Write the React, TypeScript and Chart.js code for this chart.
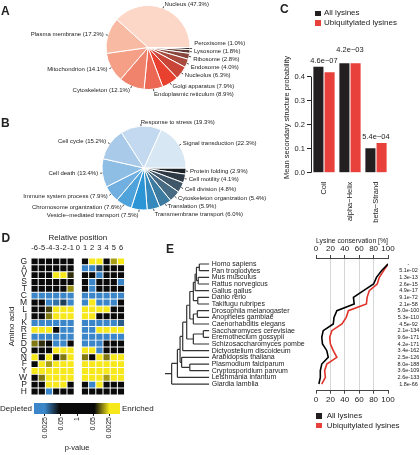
import React, { useEffect, useRef } from "react";
import { Chart, registerables } from "chart.js";

Chart.register(...registerables);

const FONT = "'Liberation Sans', Arial, Helvetica, sans-serif";
Chart.defaults.font.family = FONT;
Chart.defaults.color = "#222";

// ---------------- Panel A: subcellular localization ----------------
const localizationLabels = [
  "Nucleus", "Plasma membrane", "Mitochondrion", "Cytoskeleton", "Endoplasmic reticulum",
  "Golgi apparatus", "Nucleolus", "Endosome", "Ribosome", "Lysosome", "Peroxisome",
];
const localizationPercent = [47.3, 17.2, 14.1, 12.1, 8.9, 7.9, 6.3, 4.0, 2.8, 1.8, 1.0];
const localizationColors = [
  "#fcd6c6", "#f9baa3", "#f59f87", "#f0836b", "#ec6854", "#e8412f",
  "#c94537", "#a84a3d", "#88463c", "#603833", "#2e2523",
];

// ---------------- Panel B: biological process ----------------
const processLabels = [
  "Signal transduction", "Response to stress", "Cell cycle", "Cell death",
  "Immune system process", "Chromosome organization", "Vesicle\u2212mediated transport",
  "Transmembrane transport", "Translation", "Cytoskeleton organization",
  "Cell division", "Cell motility", "Protein folding",
];
const processPercent = [22.3, 19.3, 15.2, 13.4, 7.9, 7.6, 7.5, 6.0, 5.9, 5.4, 4.8, 4.1, 2.9];
const processColors = [
  "#d8e7f4", "#c2d9ef", "#a9cbe9", "#8fbee5", "#70afdf", "#4fa2da", "#2b95d5",
  "#3589bd", "#3e7ba1", "#476b83", "#3f5769", "#2e3a45", "#1c2127",
];

// ---------------- Panel C: secondary structure ----------------
const structureCategories = ["Coil", "alpha\u2212Helix", "beta\u2212Strand"];
const structureAll = [0.441, 0.456, 0.102];
const structureUbiquitylated = [0.419, 0.456, 0.124];
const structurePValues = ["4.6e\u221207", "4.2e\u221203", "5.4e\u221204"];
const structureTicks = [0, 0.1, 0.2, 0.3, 0.4];

// ---------------- Panel D: sequence window enrichment ----------------
const aminoAcids = ["G", "A", "V", "S", "T", "C", "M", "L", "I", "K", "R", "E", "D", "Q", "N", "F", "Y", "W", "P", "H"];
const relativePositions = ["-6", "-5", "-4", "-3", "-2", "-1", "0", "1", "2", "3", "4", "5", "6"];
// signed -log10(p): negative = depleted, positive = enriched; null = modified lysine position
const enrichment = [
  [0, 0, 0, 0, 0, 0, null, 0, 3, 3, 0, 2.2, 3],
  [0, 0, 0, 0, 0, 0, null, -3, -3, -1.9, 0, 0, 0],
  [0, 0, 0, 3, 3, 1.6, null, 0, 0, -3, 0, 0, 0],
  [0, 0, 0, 0, 0, 0, null, 0, -3, 0, 0, 0, -3],
  [0, 0, 0, 0, 0, 2.1, null, 0, -3, 0, 0, 0, 0],
  [-3, -3, -3, -3, -3, -3, null, -3, -3, -3, -3, -3, -3],
  [0, 0, -3, -2.4, -1.9, -3, null, -3, 3, -3, -3, -3, 0],
  [0, 0, 1.7, 3, 3, 3, null, 3, 3, 3, 3, 0, 0],
  [0, 0, 2.0, 3, 3, 3, null, 3, 3, 0, 0, 0, 0],
  [-3, -3, -3, -3, -3, -3, null, -3, -3, -3, -3, -3, -2.2],
  [3, 3, 3, 0, -3, -3, null, -3, -3, 3, 3, 3, 3],
  [-3, -3, -3, -3, -3, -3, null, -3, -3, -3, -3, -3, -3],
  [2.0, 1.6, 0, -3, -3, 0, null, -3, -3, -3, 0, 0, 0],
  [0, 0, 0, 3, 3, 3, null, 3, 3, -3, 0, 0, 0],
  [3, 0, 3, 0, 2.0, 3, null, 2.0, 0, 3, 2.0, 3, 3],
  [0, 3, 2.2, 3, 3, 3, null, 3, 3, 3, 3, 3, 3],
  [3, 3, 3, 3, 3, 3, null, 3, 3, 3, 3, 3, 3],
  [0, 2.0, 3, 3, 3, 3, null, 3, 3, 3, 2.2, 3, 3],
  [0, 0, 3, 3, 3, 0, null, 0, -3, 3, 0, 0, 0],
  [0, 0, -3, 0, 0, 0, null, 0, 0, 0, 0, 0, 0],
];
const colorbarP = [0.0025, 0.05, 1, 0.05, 0.0025];
const colorbarSide = [-1, -1, 0, 1, 1];

// ---------------- Panel E: conservation ----------------
const species = [
  "Homo sapiens", "Pan troglodytes", "Mus musculus", "Rattus norvegicus", "Gallus gallus",
  "Danio rerio", "Takifugu rubripes", "Drosophila melanogaster", "Anopheles gambiae",
  "Caenorhabditis elegans", "Saccharomyces cerevisiae", "Eremothecium gossypii",
  "Schizosaccharomyces pombe", "Dictyostelium discoideum", "Arabidopsis thaliana",
  "Plasmodium falciparum", "Cryptosporidium parvum", "Leishmania infantum", "Giardia lamblia",
];
const conservationAll = [100, 91, 84, 80, 66, 52, 53, 29, 25, 24, 10, 8, 9, 15, 17, 8, 6, 6, 4];
const conservationUbiquitylated = [100, 94, 88, 85, 74, 71, 70, 45, 42, 36, 22, 19, 20, 24, 29, 15, 12, 13, 8];
const conservationP = [
  "-", "5.1e-02", "1.3e-13", "2.6e-15", "4.9e-17", "9.1e-72", "2.1e-58", "5.0e-100", "5.3e-110",
  "4.5e-92", "2.1e-134", "9.6e-171", "4.2e-171", "3.4e-162", "2.5e-126", "8.0e-188",
  "3.6e-109", "2.6e-133", "1.8e-66",
];
const conservationTicks = [0, 20, 40, 60, 80, 100];
// tree merges: [childA, childB, node depth (root=0, leaves=1)]; child >=0 leaf index, <0 => merge -(k+1)
const treeMerges: [number, number, number][] = [
  [0, 1, 0.775],
  [2, 3, 0.75],
  [-1, -2, 0.71],
  [-3, 4, 0.68],
  [5, 6, 0.74],
  [-4, -5, 0.64],
  [7, 8, 0.73],
  [-7, 9, 0.64],
  [-6, -8, 0.56],
  [10, 11, 0.865],
  [-10, 12, 0.64],
  [-9, -11, 0.49],
  [-12, 13, 0.4],
  [15, 16, 0.56],
  [14, -14, 0.375],
  [-13, -15, 0.34],
  [-16, 17, 0.28],
  [-17, 18, 0.15],
];

// ---------------- helpers ----------------
const COLOR_STOPS: [number, number[]][] = [
  [-3.45, [58, 134, 200]],
  [-2.6, [58, 134, 200]],
  [-1.4, [10, 10, 10]],
  [1.4, [10, 10, 10]],
  [2.6, [246, 232, 26]],
  [3.45, [246, 232, 26]],
];
const CB_MIN = -3.45;
const CB_MAX = 3.45;
const rgb = (c: number[]) => `rgb(${c[0]},${c[1]},${c[2]})`;
function colorFor(v: number) {
  if (v <= COLOR_STOPS[0][0]) return rgb(COLOR_STOPS[0][1]);
  for (let k = 1; k < COLOR_STOPS.length; k++) {
    const [v0, c0] = COLOR_STOPS[k - 1];
    const [v1, c1] = COLOR_STOPS[k];
    if (v <= v1) {
      const t = (v - v0) / (v1 - v0);
      return rgb(c0.map((x, i) => Math.round(x + (c1[i] - x) * t)));
    }
  }
  return rgb(COLOR_STOPS[COLOR_STOPS.length - 1][1]);
}

const noPlugins = { legend: { display: false }, tooltip: { enabled: false } };

function pieLabelPlugin(fontSize: number, gap: number) {
  return {
    id: "pieLabels",
    afterDraw(chart: any) {
      const meta = chart.getDatasetMeta(0);
      const ds = chart.data.datasets[0];
      const ctx = chart.ctx;
      const items = meta.data.map((arc: any, i: number) => {
        const p = arc.getProps(["x", "y", "startAngle", "endAngle", "outerRadius"], true);
        const mid = (p.startAngle + p.endAngle) / 2;
        const c = Math.cos(mid);
        const s = Math.sin(mid);
        return {
          cx: p.x, cy: p.y, r: p.outerRadius, c, s,
          x: p.x + c * p.outerRadius * 1.1,
          y: p.y + s * p.outerRadius * 1.1,
          left: c >= -0.1,
          text: `${chart.data.labels[i]} (${Number(ds.data[i]).toFixed(1)}%)`,
        };
      });
      for (const side of [true, false]) {
        const g = items.filter((it: any) => it.left === side).sort((a: any, b: any) => a.y - b.y);
        for (let k = 0; k < 200; k++) {
          for (let j = 0; j < g.length - 1; j++) {
            const d = g[j + 1].y - g[j].y;
            if (d < gap) {
              const sh = (gap - d) / 2;
              g[j].y -= sh;
              g[j + 1].y += sh;
            }
          }
        }
      }
      ctx.save();
      ctx.font = `${fontSize}px ${FONT}`;
      ctx.fillStyle = "#222";
      ctx.strokeStyle = "#222";
      ctx.lineWidth = 0.8;
      ctx.textBaseline = "middle";
      for (const it of items) {
        ctx.beginPath();
        ctx.moveTo(it.cx + it.c * it.r * 1.0, it.cy + it.s * it.r * 1.0);
        ctx.lineTo(it.cx + it.c * it.r * 1.05, it.cy + it.s * it.r * 1.05);
        ctx.stroke();
        ctx.textAlign = it.left ? "left" : "right";
        ctx.fillText(it.text, it.x, it.y);
      }
      ctx.restore();
    },
  };
}

function pieConfig(labels: string[], values: number[], colors: string[], padding: any) {
  // R draws counter-clockwise from 3 o'clock; Chart.js draws clockwise -> reverse order
  const order = labels.map((_, i) => i).reverse();
  return {
    type: "pie",
    data: {
      labels: order.map((i) => labels[i]),
      datasets: [
        {
          data: order.map((i) => values[i]),
          backgroundColor: order.map((i) => colors[i]),
          borderColor: "#ffffff",
          borderWidth: 1,
        },
      ],
    },
    options: {
      responsive: false,
      animation: false,
      rotation: 90,
      layout: { padding },
      plugins: noPlugins,
    },
    plugins: [pieLabelPlugin(6, 8)],
  };
}

function structureConfig() {
  const axisLine = {
    id: "axisLine",
    afterDraw(chart: any) {
      const y = chart.scales.y;
      const ctx = chart.ctx;
      ctx.save();
      ctx.strokeStyle = "#222";
      ctx.lineWidth = 1;
      ctx.beginPath();
      ctx.moveTo(y.right + 0.5, y.getPixelForValue(structureTicks[0]));
      ctx.lineTo(y.right + 0.5, y.getPixelForValue(structureTicks[structureTicks.length - 1]));
      ctx.stroke();
      ctx.restore();
    },
  };
  const pvals = {
    id: "pvals",
    afterDatasetsDraw(chart: any) {
      const ctx = chart.ctx;
      const a = chart.getDatasetMeta(0).data;
      const b = chart.getDatasetMeta(1).data;
      ctx.save();
      ctx.font = `7.5px ${FONT}`;
      ctx.fillStyle = "#222";
      ctx.textAlign = "center";
      ctx.textBaseline = "alphabetic";
      const placed: any[] = [];
      const h = 9;
      structurePValues.forEach((txt, i) => {
        const cx = (a[i].x + b[i].x) / 2;
        let yb = Math.min(a[i].y, b[i].y) - 4;
        const w = ctx.measureText(txt).width + 4;
        let moved = true;
        while (moved) {
          moved = false;
          for (const p of placed) {
            if (Math.abs(p.cx - cx) < (p.w + w) / 2 && yb > p.yb - h && yb - h < p.yb) {
              yb = p.yb - h - 2;
              moved = true;
            }
          }
        }
        placed.push({ cx, yb, w });
        ctx.fillText(txt, cx, yb);
      });
      ctx.restore();
    },
  };
  return {
    type: "bar",
    data: {
      labels: structureCategories,
      datasets: [
        { label: "All lysines", data: structureAll, backgroundColor: "#231f20", borderWidth: 0 },
        { label: "Ubiquitylated lysines", data: structureUbiquitylated, backgroundColor: "#e8403a", borderWidth: 0 },
      ],
    },
    options: {
      responsive: false,
      animation: false,
      layout: { padding: { left: 0, right: 31, top: 62.3, bottom: 0 } },
      datasets: { bar: { categoryPercentage: 0.86, barPercentage: 0.9 } },
      plugins: noPlugins,
      scales: {
        x: {
          grid: { display: false, drawTicks: false },
          border: { display: false },
          ticks: { minRotation: 90, maxRotation: 90, padding: 9, autoSkip: false, font: { size: 7.5 } },
          afterFit: (s: any) => { s.height = 62.3; },
        },
        y: {
          min: 0,
          max: 0.46,
          afterBuildTicks: (s: any) => { s.ticks = structureTicks.map((v) => ({ value: v })); },
          ticks: { callback: (v: any) => Number(v).toFixed(1), padding: 2, font: { size: 7.5 } },
          grid: { drawOnChartArea: false, drawTicks: true, tickLength: 4, color: "#222" },
          border: { display: false },
          title: {
            display: true,
            text: "Mean secondary structure probability",
            font: { size: 7.5 },
            padding: { top: 32.5, bottom: 0 },
          },
          afterFit: (s: any) => { s.width = 61; },
        },
      },
    },
    plugins: [axisLine, pvals],
  };
}

function heatmapConfig() {
  const GAP = 0.07;
  return {
    type: "bar",
    data: {
      labels: relativePositions,
      datasets: aminoAcids.map((aa, r) => ({
        label: aa,
        data: enrichment[r].map((v) => (v === null ? null : [r + GAP, r + 1 - GAP])),
        backgroundColor: enrichment[r].map((v) => (v === null ? "rgba(0,0,0,0)" : colorFor(v as number))),
        borderWidth: 0,
        grouped: false,
        barPercentage: 0.86,
        categoryPercentage: 1,
      })),
    },
    options: {
      responsive: false,
      animation: false,
      layout: { padding: { left: 0, right: 15.4, top: 0, bottom: 7.3 } },
      plugins: noPlugins,
      scales: {
        x: {
          position: "top",
          grid: { display: false, drawTicks: false },
          border: { display: false },
          ticks: { autoSkip: false, maxRotation: 0, padding: 6, font: { size: 7.5 } },
          title: { display: true, text: "Relative position", font: { size: 8 }, padding: { top: 1, bottom: 0 } },
          afterFit: (s: any) => { s.height = 26; },
        },
        y: {
          min: 0,
          max: aminoAcids.length,
          reverse: true,
          afterBuildTicks: (s: any) => { s.ticks = aminoAcids.map((_, i) => ({ value: i + 0.5 })); },
          ticks: { callback: (_v: any, i: number) => aminoAcids[i], autoSkip: false, padding: 4, font: { size: 8.5 } },
          grid: { display: false, drawTicks: false },
          border: { display: false },
          title: { display: true, text: "Amino acid", font: { size: 8 }, padding: { top: 7, bottom: 0 } },
          afterFit: (s: any) => { s.width = 31; },
        },
      },
    },
  };
}

function colorbarConfig() {
  return {
    type: "bar",
    data: {
      labels: ["p"],
      datasets: [
        {
          data: [[CB_MIN, CB_MAX]],
          borderWidth: 0,
          barPercentage: 1,
          categoryPercentage: 1,
          backgroundColor: (c: any) => {
            const chart = c.chart;
            const xs = chart.scales.x;
            if (!xs || !chart.chartArea) return "#000";
            const x0 = xs.getPixelForValue(CB_MIN);
            const x1 = xs.getPixelForValue(CB_MAX);
            const g = chart.ctx.createLinearGradient(x0, 0, x1, 0);
            for (const [v, col] of COLOR_STOPS) g.addColorStop((v - CB_MIN) / (CB_MAX - CB_MIN), rgb(col));
            return g;
          },
        },
      ],
    },
    options: {
      indexAxis: "y",
      responsive: false,
      animation: false,
      layout: { padding: { left: 34, right: 30, top: 5, bottom: 0 } },
      plugins: noPlugins,
      scales: {
        x: {
          min: CB_MIN,
          max: CB_MAX,
          afterBuildTicks: (s: any) => {
            s.ticks = colorbarP.map((p, i) => ({ value: colorbarSide[i] * -Math.log10(p) }));
          },
          ticks: {
            callback: (_v: any, i: number) => String(colorbarP[i]),
            minRotation: 90,
            maxRotation: 90,
            autoSkip: false,
            padding: 1,
            font: { size: 7 },
          },
          grid: { drawOnChartArea: false, drawTicks: true, tickLength: 2, color: "#222" },
          border: { display: false },
          title: { display: true, text: "p-value", font: { size: 7.5 }, padding: { top: 0, bottom: 2.8 } },
          afterFit: (s: any) => { s.height = 41; },
        },
        y: { display: false },
      },
    },
  };
}

function treeConfig() {
  const pos = (ref: number): { x: number; y: number } => {
    if (ref >= 0) return { x: 1, y: ref };
    const [a, b, d] = treeMerges[-ref - 1];
    return { x: d, y: (pos(a).y + pos(b).y) / 2 };
  };
  const segs: { x: number; y: number }[][] = [];
  treeMerges.forEach(([a, b, d]) => {
    const pa = pos(a);
    const pb = pos(b);
    segs.push([{ x: d, y: pa.y }, { x: d, y: pb.y }]);
    segs.push([{ x: d, y: pa.y }, { x: pa.x, y: pa.y }]);
    segs.push([{ x: d, y: pb.y }, { x: pb.x, y: pb.y }]);
  });
  const root = pos(-treeMerges.length);
  segs.push([{ x: 0, y: root.y }, { x: root.x, y: root.y }]);
  return {
    type: "scatter",
    data: {
      datasets: segs.map((s) => ({
        data: s,
        showLine: true,
        borderColor: "#333",
        borderWidth: 1.2,
        pointRadius: 0,
      })),
    },
    options: {
      responsive: false,
      animation: false,
      layout: { padding: { left: 15, right: 0, top: 18, bottom: 9.3 } },
      plugins: noPlugins,
      scales: {
        x: { type: "linear", min: 0, max: 1, display: false },
        y: {
          type: "linear",
          position: "right",
          min: -0.9,
          max: 19,
          reverse: true,
          afterBuildTicks: (s: any) => { s.ticks = species.map((_, i) => ({ value: i })); },
          ticks: { callback: (_v: any, i: number) => species[i], autoSkip: false, crossAlign: "near", padding: 2.4, font: { size: 7 } },
          grid: { display: false, drawTicks: false },
          border: { display: false },
          afterFit: (s: any) => { s.width = 110.7; },
        },
      },
    },
  };
}

function conservationConfig() {
  const xTicks = (s: any) => { s.ticks = conservationTicks.map((v) => ({ value: v })); };
  const tickOpts = { padding: 1, font: { size: 8 }, autoSkip: false, minRotation: 0, maxRotation: 0 };
  return {
    type: "scatter",
    data: {
      datasets: [
        {
          label: "All lysines",
          data: conservationAll.map((v, i) => ({ x: v, y: i })),
          showLine: true,
          borderColor: "#000000",
          borderWidth: 1.6,
          pointRadius: 0,
        },
        {
          label: "Ubiquitylated lysines",
          data: conservationUbiquitylated.map((v, i) => ({ x: v, y: i })),
          showLine: true,
          borderColor: "#e0332b",
          borderWidth: 1.6,
          pointRadius: 0,
        },
      ],
    },
    options: {
      responsive: false,
      animation: false,
      layout: { padding: { left: 16, right: 0, top: 0, bottom: 0 } },
      plugins: noPlugins,
      scales: {
        x: {
          type: "linear",
          position: "bottom",
          min: 0,
          max: 100,
          afterBuildTicks: xTicks,
          ticks: tickOpts,
          grid: {
            color: (c: any) => (c.tick && (c.tick.value === 0 || c.tick.value === 100) ? "rgba(0,0,0,0)" : "#d6d6d6"),
            tickColor: "#444",
            tickLength: 3,
          },
          border: { color: "#444", width: 1 },
          afterFit: (s: any) => { s.height = 15.3; },
        },
        x2: {
          type: "linear",
          position: "top",
          min: 0,
          max: 100,
          afterBuildTicks: xTicks,
          ticks: tickOpts,
          grid: { drawOnChartArea: false, tickColor: "#444", tickLength: 3 },
          border: { color: "#444", width: 1 },
          title: { display: true, text: "Lysine conservation [%]", font: { size: 8 }, padding: { top: 0, bottom: 1 } },
          afterFit: (s: any) => { s.height = 22; },
        },
        y: {
          type: "linear",
          position: "right",
          min: -0.9,
          max: 19,
          reverse: true,
          afterBuildTicks: (s: any) => { s.ticks = conservationP.map((_, i) => ({ value: i })); },
          ticks: { callback: (_v: any, i: number) => conservationP[i], autoSkip: false, crossAlign: "center", padding: 9.6, font: { size: 5.5 } },
          grid: { display: false, drawTicks: false },
          border: { display: false },
          afterFit: (s: any) => { s.width = 32; },
        },
      },
    },
  };
}

// ---------------- components ----------------
function ChartBox({ left, top, width, height, make }: any) {
  const ref = useRef<HTMLCanvasElement>(null);
  useEffect(() => {
    const chart = new Chart(ref.current as HTMLCanvasElement, make());
    return () => chart.destroy();
  }, []);
  return (
    <canvas
      ref={ref}
      width={width}
      height={height}
      style={{ position: "absolute", left, top, width, height }}
    />
  );
}

function Txt({ left, top, size, bold, children, width, align }: any) {
  return (
    <div
      style={{
        position: "absolute",
        left,
        top,
        width,
        textAlign: align || "left",
        fontSize: size,
        lineHeight: `${size}px`,
        fontWeight: bold ? "bold" : "normal",
        whiteSpace: "nowrap",
        color: "#222",
      }}
    >
      {children}
    </div>
  );
}

function Swatch({ left, top, color }: any) {
  return <div style={{ position: "absolute", left, top, width: 5.5, height: 5.5, background: color }} />;
}

export default function App() {
  return (
    <div
      style={{
        position: "fixed",
        left: 0,
        top: 0,
        width: 420,
        height: 455,
        background: "#ffffff",
        overflow: "hidden",
        fontFamily: FONT,
      }}
    >
      <ChartBox
        left={0}
        top={0}
        width={280}
        height={112}
        make={() =>
          pieConfig(localizationLabels, localizationPercent, localizationColors, {
            left: 105.5, top: 5, right: 89.5, bottom: 22,
          })
        }
      />
      <ChartBox
        left={0}
        top={110}
        width={280}
        height={130}
        make={() =>
          pieConfig(processLabels, processPercent, processColors, {
            left: 101.5, top: 15.5, right: 93.5, bottom: 29.5,
          })
        }
      />
      <ChartBox left={250} top={0} width={170} height={235} make={structureConfig} />
      <ChartBox left={0} top={232} width={140} height={172} make={heatmapConfig} />
      <ChartBox left={0} top={398} width={150} height={57} make={colorbarConfig} />
      <ChartBox left={150} top={240} width={170} height={160} make={treeConfig} />
      <ChartBox left={300} top={236} width={120} height={170} make={conservationConfig} />

      <Txt left={1} top={5.4} size={12} bold>A</Txt>
      <Txt left={1} top={116.5} size={12} bold>B</Txt>
      <Txt left={280} top={2.5} size={12} bold>C</Txt>
      <Txt left={1.5} top={231.5} size={12} bold>D</Txt>
      <Txt left={166} top={242.5} size={12} bold>E</Txt>

      <Swatch left={315} top={10.7} color="#231f20" />
      <Txt left={324} top={9.3} size={8}>All lysines</Txt>
      <Swatch left={315} top={20.2} color="#e8403a" />
      <Txt left={324} top={18.8} size={8}>Ubiquitylated lysines</Txt>

      <Swatch left={316} top={413.3} color="#231f20" />
      <Txt left={326.7} top={412.2} size={8}>All lysines</Txt>
      <Swatch left={316} top={422.8} color="#e8403a" />
      <Txt left={326.7} top={421.7} size={8}>Ubiquitylated lysines</Txt>

      <Txt left={0} top={404.5} size={8} width={32} align="right">Depleted</Txt>
      <Txt left={122} top={404.5} size={8}>Enriched</Txt>
    </div>
  );
}
